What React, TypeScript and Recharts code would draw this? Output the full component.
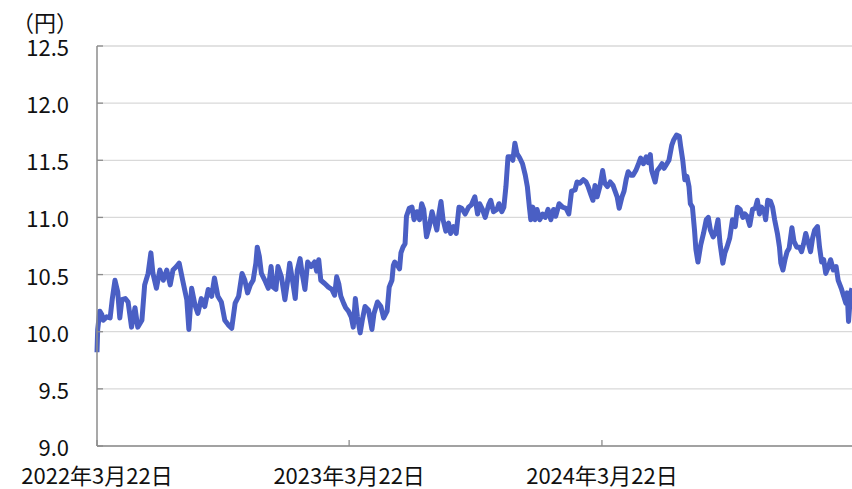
import React from 'react';
import { LineChart, Line, XAxis, YAxis, CartesianGrid } from 'recharts';

const FONT = '"Noto Sans CJK JP", "Noto Sans", sans-serif';

const unitLabel = '（円）';
const startDate = '2022-03-22';
const endDate = '2025-03-19';
const tickDates = ['2022-03-22', '2023-03-22', '2024-03-22'];
const tickLabels = ['2022年3月22日', '2023年3月22日', '2024年3月22日'];
const yTicks = [9.0, 9.5, 10.0, 10.5, 11.0, 11.5, 12.0, 12.5];

const rates2022: [string, number][] = [
  ['2022-03-22', 9.82], ['2022-03-23', 10.02], ['2022-03-26', 10.18], ['2022-03-29', 10.15], ['2022-03-31', 10.10],
  ['2022-04-05', 10.13], ['2022-04-10', 10.12], ['2022-04-13', 10.28], ['2022-04-17', 10.45], ['2022-04-21', 10.35],
  ['2022-04-24', 10.12], ['2022-04-27', 10.28], ['2022-05-02', 10.29], ['2022-05-06', 10.26], ['2022-05-11', 10.04],
  ['2022-05-16', 10.21], ['2022-05-20', 10.04], ['2022-05-26', 10.10], ['2022-05-30', 10.41], ['2022-06-04', 10.51],
  ['2022-06-08', 10.69], ['2022-06-11', 10.51], ['2022-06-16', 10.38], ['2022-06-21', 10.54], ['2022-06-26', 10.45],
  ['2022-07-01', 10.54], ['2022-07-06', 10.41], ['2022-07-10', 10.54], ['2022-07-15', 10.57], ['2022-07-19', 10.60],
  ['2022-07-24', 10.45], ['2022-07-30', 10.28], ['2022-08-02', 10.02], ['2022-08-06', 10.38], ['2022-08-11', 10.23],
  ['2022-08-15', 10.16], ['2022-08-20', 10.29], ['2022-08-25', 10.22], ['2022-08-30', 10.37], ['2022-09-04', 10.31],
  ['2022-09-08', 10.47], ['2022-09-13', 10.31], ['2022-09-18', 10.26], ['2022-09-23', 10.10], ['2022-09-28', 10.06],
  ['2022-10-03', 10.03], ['2022-10-08', 10.25], ['2022-10-13', 10.31], ['2022-10-18', 10.51], ['2022-10-22', 10.45],
  ['2022-10-26', 10.34], ['2022-10-30', 10.41], ['2022-11-03', 10.45], ['2022-11-07', 10.60], ['2022-11-09', 10.74],
  ['2022-11-12', 10.66], ['2022-11-15', 10.51], ['2022-11-20', 10.45], ['2022-11-25', 10.38], ['2022-11-29', 10.57],
  ['2022-12-02', 10.39], ['2022-12-06', 10.37], ['2022-12-09', 10.57], ['2022-12-14', 10.48], ['2022-12-19', 10.28],
  ['2022-12-23', 10.45], ['2022-12-26', 10.60], ['2022-12-30', 10.45],
];

const rates2023: [string, number][] = [
  ['2023-01-03', 10.29], ['2023-01-06', 10.54], ['2023-01-10', 10.64], ['2023-01-13', 10.51], ['2023-01-17', 10.37],
  ['2023-01-21', 10.61], ['2023-01-26', 10.57], ['2023-01-31', 10.61], ['2023-02-03', 10.53], ['2023-02-06', 10.63],
  ['2023-02-09', 10.45], ['2023-02-15', 10.42], ['2023-02-20', 10.39], ['2023-02-25', 10.37], ['2023-03-01', 10.32],
  ['2023-03-04', 10.48], ['2023-03-07', 10.42], ['2023-03-10', 10.31], ['2023-03-14', 10.25], ['2023-03-17', 10.21],
  ['2023-03-21', 10.18], ['2023-03-25', 10.13], ['2023-03-28', 10.04], ['2023-03-31', 10.29], ['2023-04-03', 10.13],
  ['2023-04-07', 9.99], ['2023-04-10', 10.10], ['2023-04-14', 10.22], ['2023-04-19', 10.19], ['2023-04-24', 10.02],
  ['2023-04-27', 10.16], ['2023-05-02', 10.26], ['2023-05-07', 10.22], ['2023-05-11', 10.12], ['2023-05-16', 10.18],
  ['2023-05-19', 10.39], ['2023-05-23', 10.45], ['2023-05-25', 10.58], ['2023-05-27', 10.61], ['2023-05-31', 10.58],
  ['2023-06-03', 10.55], ['2023-06-05', 10.69], ['2023-06-08', 10.74], ['2023-06-11', 10.77], ['2023-06-13', 11.01],
  ['2023-06-17', 11.08], ['2023-06-21', 11.09], ['2023-06-24', 10.98], ['2023-06-28', 11.05], ['2023-07-02', 10.98],
  ['2023-07-05', 11.12], ['2023-07-08', 11.07], ['2023-07-12', 10.83], ['2023-07-16', 10.92], ['2023-07-20', 11.05],
  ['2023-07-23', 10.98], ['2023-07-27', 10.89], ['2023-07-30', 11.03], ['2023-08-02', 11.14], ['2023-08-05', 10.98],
  ['2023-08-09', 10.88], ['2023-08-13', 10.95], ['2023-08-16', 10.86], ['2023-08-20', 10.92], ['2023-08-24', 10.86],
  ['2023-08-28', 11.09], ['2023-09-01', 11.08], ['2023-09-06', 11.03], ['2023-09-11', 11.09], ['2023-09-15', 11.11],
  ['2023-09-20', 11.18], ['2023-09-24', 11.03], ['2023-09-27', 11.12], ['2023-10-01', 11.07], ['2023-10-05', 11.00],
  ['2023-10-10', 11.11], ['2023-10-13', 11.15], ['2023-10-17', 11.05], ['2023-10-22', 11.07], ['2023-10-25', 11.12],
  ['2023-10-29', 11.05], ['2023-11-01', 11.09], ['2023-11-04', 11.27], ['2023-11-07', 11.53], ['2023-11-11', 11.53],
  ['2023-11-14', 11.50], ['2023-11-17', 11.65], ['2023-11-20', 11.56], ['2023-11-24', 11.52], ['2023-11-28', 11.47],
  ['2023-12-02', 11.37], ['2023-12-05', 11.27], ['2023-12-08', 11.09], ['2023-12-10', 10.98], ['2023-12-13', 11.09],
  ['2023-12-16', 10.98], ['2023-12-19', 11.07], ['2023-12-23', 10.98], ['2023-12-27', 11.03], ['2023-12-31', 11.00],
];

const rates2024: [string, number][] = [
  ['2024-01-04', 11.07], ['2024-01-08', 10.98], ['2024-01-12', 11.07], ['2024-01-15', 11.01], ['2024-01-20', 11.12],
  ['2024-01-25', 11.09], ['2024-01-30', 11.08], ['2024-02-03', 11.03], ['2024-02-07', 11.23], ['2024-02-12', 11.24],
  ['2024-02-15', 11.31], ['2024-02-19', 11.30], ['2024-02-24', 11.33], ['2024-02-28', 11.31], ['2024-03-02', 11.27],
  ['2024-03-06', 11.20], ['2024-03-09', 11.15], ['2024-03-12', 11.28], ['2024-03-15', 11.18], ['2024-03-19', 11.27],
  ['2024-03-23', 11.41], ['2024-03-26', 11.30], ['2024-03-30', 11.27], ['2024-04-03', 11.31], ['2024-04-07', 11.28],
  ['2024-04-10', 11.23], ['2024-04-13', 11.18], ['2024-04-16', 11.08], ['2024-04-20', 11.18], ['2024-04-23', 11.23],
  ['2024-04-26', 11.33], ['2024-04-29', 11.40], ['2024-05-03', 11.37], ['2024-05-06', 11.37], ['2024-05-10', 11.41],
  ['2024-05-14', 11.47], ['2024-05-17', 11.52], ['2024-05-21', 11.47], ['2024-05-25', 11.53], ['2024-05-28', 11.48],
  ['2024-05-31', 11.55], ['2024-06-02', 11.41], ['2024-06-07', 11.31], ['2024-06-10', 11.41], ['2024-06-14', 11.44],
  ['2024-06-17', 11.47], ['2024-06-20', 11.43], ['2024-06-24', 11.47], ['2024-06-27', 11.50], ['2024-07-01', 11.63],
  ['2024-07-04', 11.68], ['2024-07-08', 11.72], ['2024-07-12', 11.71], ['2024-07-14', 11.62], ['2024-07-17', 11.50],
  ['2024-07-20', 11.33], ['2024-07-23', 11.36], ['2024-07-26', 11.27], ['2024-07-28', 11.12], ['2024-07-31', 11.09],
  ['2024-08-03', 10.89], ['2024-08-05', 10.72], ['2024-08-08', 10.61], ['2024-08-12', 10.76], ['2024-08-16', 10.86],
  ['2024-08-20', 10.98], ['2024-08-23', 11.00], ['2024-08-26', 10.89], ['2024-08-30', 10.83], ['2024-09-02', 10.86],
  ['2024-09-06', 10.98], ['2024-09-09', 10.77], ['2024-09-13', 10.60], ['2024-09-16', 10.69], ['2024-09-19', 10.74],
  ['2024-09-23', 10.82], ['2024-09-27', 10.98], ['2024-10-01', 10.92], ['2024-10-04', 11.09], ['2024-10-08', 11.07],
  ['2024-10-12', 11.00], ['2024-10-15', 11.03], ['2024-10-18', 11.01], ['2024-10-22', 10.93], ['2024-10-26', 11.07],
  ['2024-10-30', 11.08], ['2024-11-02', 11.15], ['2024-11-05', 11.03], ['2024-11-08', 11.09], ['2024-11-12', 11.05],
  ['2024-11-14', 10.98], ['2024-11-17', 11.15], ['2024-11-21', 11.14], ['2024-11-24', 11.09], ['2024-11-27', 10.98],
  ['2024-12-01', 10.86], ['2024-12-04', 10.74], ['2024-12-06', 10.60], ['2024-12-09', 10.54], ['2024-12-12', 10.63],
  ['2024-12-15', 10.70], ['2024-12-18', 10.73], ['2024-12-22', 10.91], ['2024-12-25', 10.79], ['2024-12-29', 10.74],
];

const rates2025: [string, number][] = [
  ['2025-01-02', 10.74], ['2025-01-05', 10.70], ['2025-01-08', 10.77], ['2025-01-11', 10.86], ['2025-01-15', 10.77],
  ['2025-01-18', 10.70], ['2025-01-21', 10.82], ['2025-01-24', 10.89], ['2025-01-28', 10.92], ['2025-01-31', 10.74],
  ['2025-02-03', 10.61], ['2025-02-06', 10.63], ['2025-02-09', 10.51], ['2025-02-13', 10.57], ['2025-02-16', 10.63],
  ['2025-02-20', 10.54], ['2025-02-24', 10.57], ['2025-02-27', 10.45], ['2025-03-04', 10.37], ['2025-03-07', 10.31],
  ['2025-03-10', 10.25], ['2025-03-12', 10.34], ['2025-03-14', 10.09], ['2025-03-17', 10.34], ['2025-03-19', 10.38],
];

const toTime = (s: string) => Date.parse(s + 'T00:00:00Z');

const data = [...rates2022, ...rates2023, ...rates2024, ...rates2025].map(([d, v]) => ({ t: toTime(d), v }));
const tickTimes = tickDates.map(toTime);

const AXIS = '#8c8c8c';
const GRID = '#d9d9d9';
const TEXT = '#111111';

const XTick = (props: any) => {
  const { x, y, payload } = props;
  const i = tickTimes.indexOf(payload.value);
  return (
    <g>
      <line x1={x} x2={x} y1={y} y2={y - 6} stroke={AXIS} strokeWidth={1.3} />
      <text x={x} y={y + 28} textAnchor="middle" dominantBaseline="central" fontFamily={FONT} fontSize={22} fill={TEXT}>
        {tickLabels[i]}
      </text>
    </g>
  );
};

const YTick = (props: any) => {
  const { x, y, payload } = props;
  return (
    <g>
      <line x1={x} x2={x + 6} y1={y} y2={y} stroke={AXIS} strokeWidth={1.3} />
      <text x={x - 28} y={y} textAnchor="end" dominantBaseline="central" fontFamily={FONT} fontSize={22} fill={TEXT}>
        {Number(payload.value).toFixed(1)}
      </text>
    </g>
  );
};

export default function App() {
  return (
    <div style={{ position: 'absolute', left: 0, top: 0, width: 852, height: 489, background: '#fff' }}>
      <div
        style={{
          position: 'absolute',
          left: 12,
          top: 11,
          fontFamily: FONT,
          fontSize: 22,
          lineHeight: '20px',
          color: TEXT,
          whiteSpace: 'nowrap',
        }}
      >
        {unitLabel}
      </div>
      <LineChart width={852} height={489} data={data} margin={{ top: 46, right: 0, bottom: 0, left: 0 }}>
        <CartesianGrid vertical={false} stroke={GRID} strokeWidth={1.3} />
        <XAxis
          dataKey="t"
          type="number"
          domain={[toTime(startDate), toTime(endDate)]}
          ticks={tickTimes}
          tick={<XTick />}
          tickLine={false}
          tickSize={0}
          tickMargin={0}
          height={43}
          axisLine={{ stroke: AXIS, strokeWidth: 1.5 }}
          interval={0}
        />
        <YAxis
          domain={[9, 12.5]}
          ticks={yTicks}
          tick={<YTick />}
          tickLine={false}
          tickSize={0}
          tickMargin={0}
          width={97}
          axisLine={{ stroke: AXIS, strokeWidth: 1.5 }}
          interval={0}
        />
        <Line
          type="linear"
          dataKey="v"
          stroke="#4a5fc4"
          strokeWidth={5}
          strokeLinejoin="round"
          dot={false}
          activeDot={false}
          isAnimationActive={false}
        />
      </LineChart>
    </div>
  );
}
